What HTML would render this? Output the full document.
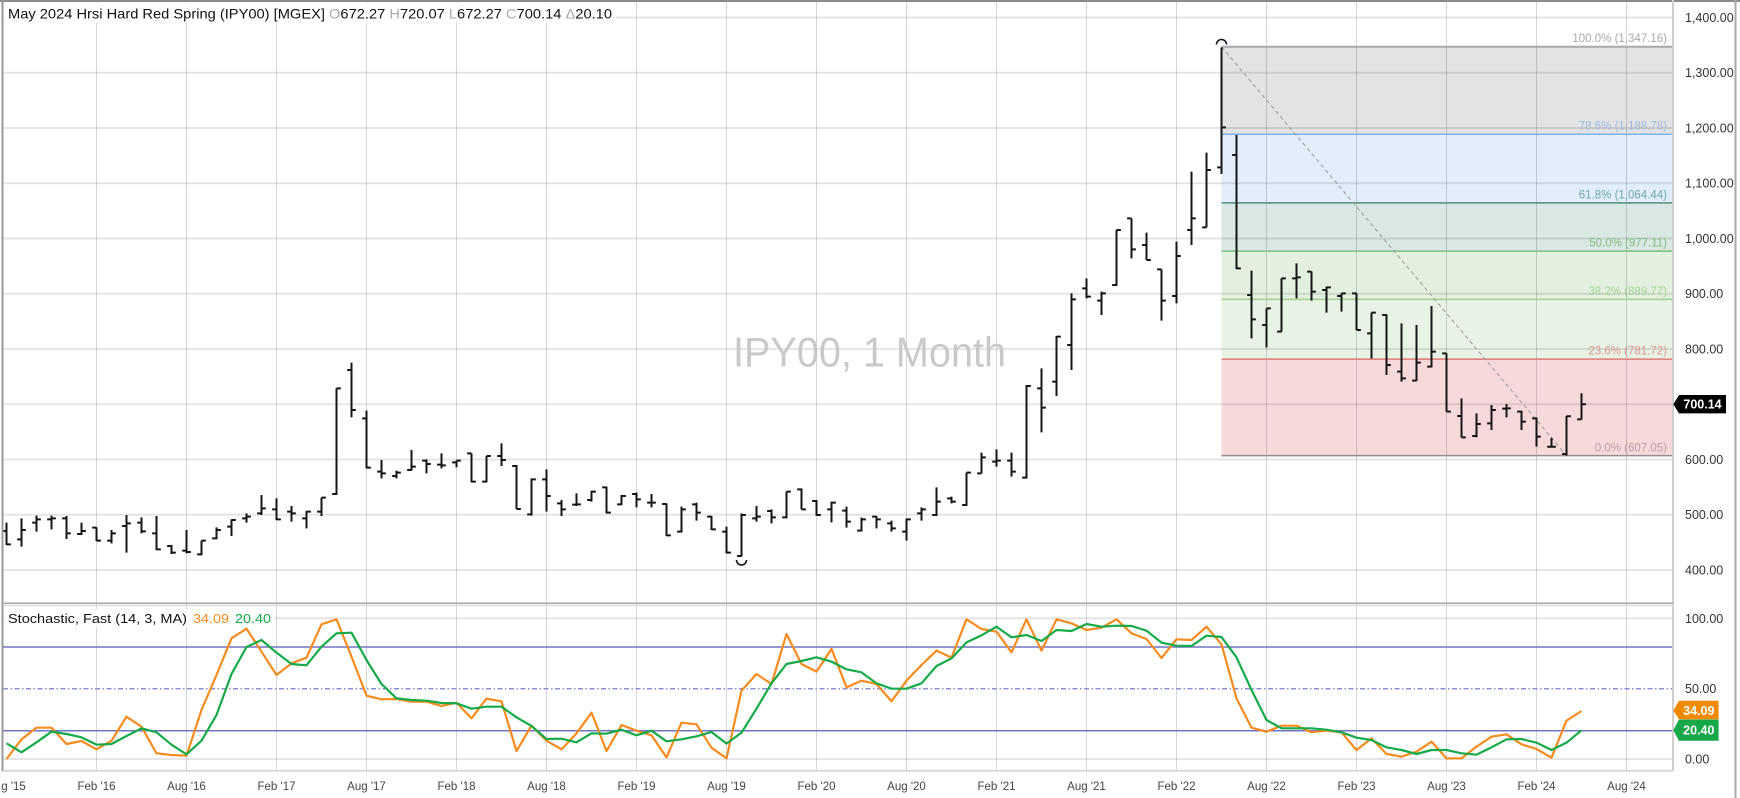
<!DOCTYPE html>
<html><head><meta charset="utf-8"><style>
html,body{margin:0;padding:0;background:#fff;}
svg{display:block;font-family:"Liberation Sans",Arial,sans-serif;}
.b path{vector-effect:non-scaling-stroke;}
.s polyline{vector-effect:non-scaling-stroke;}
</style></head><body>
<svg width="1740" height="798" viewBox="0 0 1740 798" xmlns="http://www.w3.org/2000/svg">
<rect width="1740" height="798" fill="#fff"/>

<!-- Fib fills -->
<rect x="1221.5" y="46.7" width="451.5" height="87.5" fill="#e3e3e6"/>
<rect x="1221.5" y="134.2" width="451.5" height="68.7" fill="#e2eefa"/>
<rect x="1221.5" y="202.9" width="451.5" height="48.2" fill="#dae8e4"/>
<rect x="1221.5" y="251.1" width="451.5" height="48.3" fill="#e3f0df"/>
<rect x="1221.5" y="299.4" width="451.5" height="59.7" fill="#e8f3e6"/>
<rect x="1221.5" y="359.1" width="451.5" height="96.5" fill="#f7d9dc"/>

<!-- gridlines -->
<g stroke="rgba(0,0,0,0.1)" stroke-width="2">
<line x1="3" x2="1673" y1="17.5" y2="17.5"/>
<line x1="3" x2="1673" y1="72.75" y2="72.75"/>
<line x1="3" x2="1673" y1="128" y2="128"/>
<line x1="3" x2="1673" y1="183.25" y2="183.25"/>
<line x1="3" x2="1673" y1="238.5" y2="238.5"/>
<line x1="3" x2="1673" y1="293.75" y2="293.75"/>
<line x1="3" x2="1673" y1="349" y2="349"/>
<line x1="3" x2="1673" y1="404.25" y2="404.25"/>
<line x1="3" x2="1673" y1="459.5" y2="459.5"/>
<line x1="3" x2="1673" y1="514.75" y2="514.75"/>
<line x1="3" x2="1673" y1="570" y2="570"/>
<line x1="3" x2="1673" y1="618.3" y2="618.3"/>
<line x1="3" x2="1673" y1="759" y2="759"/>
</g>
<g stroke="rgba(0,0,0,0.16)" stroke-width="1">
<line x1="96.5" x2="96.5" y1="0" y2="772"/>
<line x1="186.5" x2="186.5" y1="0" y2="772"/>
<line x1="276.5" x2="276.5" y1="0" y2="772"/>
<line x1="366.5" x2="366.5" y1="0" y2="772"/>
<line x1="456.5" x2="456.5" y1="0" y2="772"/>
<line x1="546.5" x2="546.5" y1="0" y2="772"/>
<line x1="636.5" x2="636.5" y1="0" y2="772"/>
<line x1="726.5" x2="726.5" y1="0" y2="772"/>
<line x1="816.5" x2="816.5" y1="0" y2="772"/>
<line x1="906.5" x2="906.5" y1="0" y2="772"/>
<line x1="996.5" x2="996.5" y1="0" y2="772"/>
<line x1="1086.5" x2="1086.5" y1="0" y2="772"/>
<line x1="1176.5" x2="1176.5" y1="0" y2="772"/>
<line x1="1266.5" x2="1266.5" y1="0" y2="772"/>
<line x1="1356.5" x2="1356.5" y1="0" y2="772"/>
<line x1="1446.5" x2="1446.5" y1="0" y2="772"/>
<line x1="1536.5" x2="1536.5" y1="0" y2="772"/>
<line x1="1626.5" x2="1626.5" y1="0" y2="772"/>
</g>

<!-- Fib lines -->
<g stroke-width="1.5">
<line x1="1221.5" x2="1673" y1="46.7" y2="46.7" stroke="#a8a8ae" stroke-width="2"/>
<line x1="1221.5" x2="1673" y1="134.2" y2="134.2" stroke="#7fb0e6"/>
<line x1="1221.5" x2="1673" y1="202.9" y2="202.9" stroke="#4d8f84"/>
<line x1="1221.5" x2="1673" y1="251.1" y2="251.1" stroke="#7bbf7b"/>
<line x1="1221.5" x2="1673" y1="299.4" y2="299.4" stroke="#a0d090"/>
<line x1="1221.5" x2="1673" y1="359.1" y2="359.1" stroke="#e07a7a"/>
<line x1="1221.5" x2="1673" y1="455.6" y2="455.6" stroke="#9a8a90"/>
</g>
<g font-size="11.5" text-anchor="end">
<text x="1667" y="42" fill="#a9a9a9">100.0% (1,347.16)</text>
<text x="1667" y="129.6" fill="#9bb9dd">78.6% (1,188.78)</text>
<text x="1667" y="198.4" fill="#6fa7a7">61.8% (1,064.44)</text>
<text x="1667" y="246.6" fill="#82bb82">50.0% (977.11)</text>
<text x="1667" y="294.9" fill="#a7d39a">38.2% (889.77)</text>
<text x="1667" y="354.6" fill="#e39494">23.6% (781.72)</text>
<text x="1667" y="451.5" fill="#b8a0a8">0.0% (607.05)</text>
</g>
<line x1="1221.5" y1="46.7" x2="1566.5" y2="455.6" stroke="#9a9a9a" stroke-width="1" stroke-dasharray="4,3"/>

<!-- watermark -->
<text x="733" y="366.7" font-size="42" fill="#c9c9c9" textLength="273" lengthAdjust="spacingAndGlyphs">IPY00, 1 Month</text>

<!-- Bars -->
<g class="b" stroke="#151515" stroke-width="2" fill="none">
<g transform="translate(6.5,330) scale(15,0.333333)">
<path d="M0 578V645M-0.29 603h0.29M0 643h0.29M1 565V650M0.71 628h0.29M1 600h0.29M2 557V605M1.71 578h0.29M2 568h0.29M3 557V598M2.71 568h0.29M3 565h0.29M4 558V627M3.71 565h0.29M4 610h0.29M5 578V615M4.71 612h0.29M5 603h0.29M6 592V633M5.71 593h0.29M6 632h0.29M7 600V640M6.71 632h0.29M7 610h0.29M8 555V668M7.71 588h0.29M8 580h0.29M9 562V610M8.71 578h0.29M9 604h0.29M10 558V660M9.71 610h0.29M10 658h0.29M11 645V672M10.71 648h0.29M11 668h0.29M12 600V670M11.71 662h0.29M12 666h0.29M13 632V676M12.71 673h0.29M13 632h0.29M14 592V628M13.71 625h0.29M14 600h0.29M15 568V618M14.71 590h0.29M15 570h0.29M16 550V578M15.71 565h0.29M16 560h0.29M17 495V555M16.71 550h0.29M17 535h0.29M18 505V570M17.71 538h0.29M18 568h0.29M19 528V575M18.71 545h0.29M19 550h0.29M20 543V595M19.71 565h0.29M20 545h0.29M21 503V558M20.71 545h0.29M21 503h0.29M22 175V495M21.71 492h0.29M22 175h0.29M23 98V262M22.71 120h0.29M23 240h0.29M24 242V415M23.71 265h0.29M24 413h0.29M25 390V445M24.71 425h0.29M25 430h0.29M26 422V445M25.71 438h0.29M26 428h0.29M27 360V422M26.71 420h0.29M27 410h0.29M28 388V430M27.71 392h0.29M28 402h0.29M29 370V415M28.71 404h0.29M29 406h0.29M30 392V412M29.71 397h0.29M30 392h0.29M31 370V457M30.71 370h0.29M31 455h0.29M32 378V457M31.71 455h0.29M32 378h0.29M33 340V408M32.71 378h0.29M33 390h0.29M34 405V537M33.71 408h0.29M34 537h0.29"/>
</g>
<g transform="translate(6.5,270) scale(15,0.333333)">
<path d="M35 625V737M34.71 733h0.29M35 628h0.29M36 598V725M35.71 628h0.29M36 678h0.29M37 690V738M36.71 700h0.29M37 718h0.29M38 670V708M37.71 704h0.29M38 703h0.29M39 662V695M38.71 690h0.29M39 665h0.29M40 650V730M39.71 652h0.29M40 728h0.29M41 675V705M40.71 703h0.29M41 678h0.29M42 668V712M41.71 672h0.29M42 688h0.29M43 672V712M42.71 698h0.29M43 698h0.29M44 700V798M43.71 702h0.29M44 796h0.29M45 710V787M44.71 785h0.29M45 718h0.29M46 698V752M45.71 703h0.29M46 728h0.29M47 738V780M46.71 740h0.29M47 778h0.29M48 770V850M47.71 785h0.29M48 848h0.29M49 730V860M48.71 858h0.29M49 735h0.29M50 708V755M49.71 745h0.29M50 740h0.29M51 718V760M50.71 723h0.29M51 742h0.29M52 665V745M51.71 742h0.29M52 665h0.29M53 655V718M52.71 658h0.29M53 718h0.29M54 690V737M53.71 693h0.29M54 735h0.29M55 695V757M54.71 718h0.29M55 698h0.29M56 710V773M55.71 722h0.29M56 755h0.29M57 743V784M56.71 782h0.29M57 748h0.29M58 738V775M57.71 740h0.29M58 748h0.29M59 752V785M58.71 760h0.29M59 775h0.29M60 745V812M59.71 785h0.29M60 748h0.29M61 712V752M60.71 730h0.29M61 718h0.29M62 652V738M61.71 735h0.29M62 695h0.29M63 680V700M62.71 685h0.29M63 695h0.29M64 608V708M63.71 705h0.29M64 608h0.29M65 548V610M64.71 610h0.29M65 562h0.29M66 538V590M65.71 575h0.29M66 572h0.29M67 548V620M66.71 572h0.29M67 605h0.29M68 345V625M67.71 623h0.29M68 348h0.29"/>
</g>
<g transform="translate(6.5,30) scale(15,0.333333)">
<path d="M69 1015V1207M68.71 1075h0.29M69 1133h0.29M70 918V1098M69.71 1055h0.29M70 920h0.29M71 790V1020M70.71 945h0.29M71 808h0.29M72 745V805M71.71 775h0.29M72 800h0.29M73 785V855M72.71 812h0.29M73 790h0.29M74 600V768M73.71 765h0.29M74 600h0.29M75 565V685M74.71 565h0.29M75 658h0.29M76 608V690M75.71 645h0.29M76 690h0.29M77 718V872M76.71 718h0.29M77 812h0.29M78 635V820M77.71 798h0.29M78 678h0.29M79 425V645M78.71 600h0.29M79 565h0.29M80 368V592M79.71 592h0.29M80 420h0.29M81 52V432M80.71 412h0.29M81 292h0.29M82 315V717M81.71 375h0.29M82 715h0.29M83 722V925M82.71 795h0.29M83 868h0.29M84 835V952M83.71 885h0.29M84 835h0.29M85 745V905M84.71 905h0.29M85 745h0.29M86 700V805M85.71 745h0.29M86 742h0.29M87 725V812M86.71 725h0.29M87 785h0.29M88 770V848M87.71 780h0.29M88 772h0.29M89 790V845M88.71 798h0.29M89 790h0.29M90 790V900M89.71 790h0.29M90 900h0.29M91 848V985M90.71 910h0.29M91 848h0.29M92 853V1035M91.71 855h0.29M92 1005h0.29M93 880V1055M92.71 1025h0.29M93 1045h0.29M94 885V1053M93.71 1052h0.29M94 998h0.29M95 828V1012M94.71 1010h0.29M95 965h0.29M96 970V1145M95.71 970h0.29M96 1145h0.29M97 1105V1222M96.71 1158h0.29M97 1222h0.29M98 1150V1222M97.71 1218h0.29M98 1182h0.29M99 1125V1200M98.71 1180h0.29M99 1140h0.29M100 1122V1162M99.71 1136h0.29M100 1135h0.29M101 1142V1200M100.71 1145h0.29M101 1175h0.29M102 1162V1250M101.71 1165h0.29M102 1220h0.29"/>
</g>
<g transform="translate(6.5,0) scale(15,1)">
<path d="M103 437.7V447.8M102.71 446.8h0.29M103 446.8h0.29M104 416V455.6M103.71 454h0.29M104 416.3h0.29M105 393.2V419.4M104.71 419.4h0.29M105 404.2h0.29"/>
</g>
</g>
<path d="M1216.5 44.5 A5 5 0 0 1 1226.5 44.5" fill="none" stroke="#151515" stroke-width="1.6"/>
<path d="M736.5 560 A5 5 0 0 0 746.5 560" fill="none" stroke="#151515" stroke-width="1.6"/>

<!-- Stochastic ref lines -->
<line x1="3" x2="1673" y1="647" y2="647" stroke="#7074c4" stroke-width="1.5"/>
<line x1="3" x2="1673" y1="730.7" y2="730.7" stroke="#7074c4" stroke-width="1.5"/>
<line x1="3" x2="1673" y1="688.7" y2="688.7" stroke="#8a8fd0" stroke-width="1.5" stroke-dasharray="5,2.5,1.5,2.5"/>

<!-- Stochastic series -->
<g class="s" transform="translate(6.5,580) scale(15,0.333333)" fill="none" stroke-width="2.2" stroke-linejoin="round">
<polyline stroke="#f68b1f" points="0,537 1,478 2,443 3,443 4,492 5,483 6,508 7,482 8,410 9,440 10,520 11,525 12,527 13,390 14,285 15,175 16,146 17,215 18,285 19,250 20,233 21,133 22,118 23,230 24,347 25,358 26,357 27,365 28,365 29,378 30,368 31,415 32,356 33,364 34,513 35,437 36,482 37,508 38,460 39,398 40,513 41,435 42,452 43,466 44,532 45,428 46,433 47,503 48,535 49,332 50,282 51,312 52,162 53,252 54,275 55,207 56,322 57,302 58,312 59,364 60,302 61,255 62,212 63,233 64,118 65,147 66,155 67,217 68,118 69,212 70,118 71,130 72,150 73,143 74,118 75,160 76,177 77,234 78,178 79,180 80,140 81,193 82,355 83,443 84,455 85,437 86,437 87,457 88,452 89,457 90,510 91,475 92,522 93,530 94,515 95,485 96,535 97,535 98,500 99,470 100,463 101,493 102,507 103,533 104,422 105,393"/>
<polyline stroke="#16aa48" points="0,490 1,517 2,487 3,455 4,462 5,472 6,494 7,492 8,468 9,445 10,457 11,494 12,523 13,482 14,405 15,282 16,201 17,180 18,218 19,252 20,256 21,200 22,160 23,158 24,240 25,312 26,355 27,360 28,362 29,369 30,370 31,386 32,380 33,380 34,412 35,438 36,477 37,476 38,487 39,460 40,461 41,449 42,466 43,452 44,484 45,478 46,469 47,456 48,491 49,458 50,386 51,310 52,252 53,243 54,232 55,245 56,268 57,277 58,310 59,326 60,326 61,310 62,258 63,235 64,187 65,166 66,140 67,172 68,165 69,183 70,150 71,153 72,132 73,140 74,137 75,138 76,152 77,188 78,197 79,198 80,167 81,171 82,232 83,330 84,420 85,445 86,445 87,445 88,449 89,457 90,473 91,480 92,502 93,510 94,522 95,510 96,510 97,520 98,524 99,502 100,478 101,477 102,488 103,510 104,488 105,451"/>
</g>

<!-- borders -->
<rect x="0" y="0" width="1740" height="2" fill="#8c8c8c"/>
<rect x="1.5" y="0" width="2" height="771" fill="#999"/>
<rect x="1734.5" y="0" width="2" height="798" fill="#aaa"/>
<line x1="1673" x2="1673" y1="0" y2="771" stroke="#cfcfcf" stroke-width="2"/>
<line x1="3" x2="1673" y1="603.3" y2="603.3" stroke="#a8a8a8" stroke-width="1.5"/>
<line x1="3" x2="1673" y1="605.5" y2="605.5" stroke="#dcdcdc" stroke-width="1.5"/>
<line x1="3" x2="1673" y1="770.7" y2="770.7" stroke="#d8d8d8" stroke-width="2"/>

<!-- title -->
<rect x="4" y="3" width="612" height="20" fill="#fff"/>
<text x="8" y="18.5" font-size="14" fill="#111" textLength="604" lengthAdjust="spacingAndGlyphs">May 2024 Hrsi Hard Red Spring (IPY00) [MGEX] <tspan fill="#aaa">O</tspan>672.27 <tspan fill="#aaa">H</tspan>720.07 <tspan fill="#aaa">L</tspan>672.27 <tspan fill="#aaa">C</tspan>700.14 <tspan fill="#aaa">Δ</tspan>20.10</text>

<!-- stoch label -->
<rect x="4" y="609" width="270" height="18" fill="#fff"/>
<text x="8" y="623" font-size="13" fill="#111" textLength="179" lengthAdjust="spacingAndGlyphs">Stochastic, Fast  (14, 3, MA)</text>
<text x="193" y="623" font-size="13" fill="#f68b1f" textLength="36" lengthAdjust="spacingAndGlyphs">34.09</text>
<text x="235" y="623" font-size="13" fill="#16aa48" textLength="36" lengthAdjust="spacingAndGlyphs">20.40</text>

<!-- price axis -->
<g font-size="12.5" fill="#333">
<text x="1685" y="22">1,400.00</text>
<text x="1685" y="77.2">1,300.00</text>
<text x="1685" y="132.5">1,200.00</text>
<text x="1685" y="187.7">1,100.00</text>
<text x="1685" y="243">1,000.00</text>
<text x="1685" y="298.2">900.00</text>
<text x="1685" y="353.5">800.00</text>
<text x="1685" y="464">600.00</text>
<text x="1685" y="519.2">500.00</text>
<text x="1685" y="574.5">400.00</text>
<text x="1685" y="622.8">100.00</text>
<text x="1685" y="693.2">50.00</text>
<text x="1685" y="763.5">0.00</text>
</g>

<!-- tags -->
<path d="M1673.3 404.2 L1679 395 H1726 V413.4 H1679 Z" fill="#000"/>
<text x="1702.5" y="408.6" font-size="12.5" font-weight="bold" fill="#fff" text-anchor="middle">700.14</text>
<path d="M1673.3 710.5 L1679 700.7 H1718.6 V719.3 H1679 Z" fill="#f28a00"/>
<text x="1698.8" y="714.9" font-size="12.5" font-weight="bold" fill="#fff" text-anchor="middle">34.09</text>
<path d="M1673.3 730.2 L1679 719.5 H1718.6 V740.7 H1679 Z" fill="#16a748"/>
<text x="1698.8" y="734.6" font-size="12.5" font-weight="bold" fill="#fff" text-anchor="middle">20.40</text>

<!-- x labels -->
<g font-size="11.5" fill="#444" text-anchor="middle">
<text x="6.5" y="790">Aug '15</text>
<text x="96.5" y="790">Feb '16</text>
<text x="186.5" y="790">Aug '16</text>
<text x="276.5" y="790">Feb '17</text>
<text x="366.5" y="790">Aug '17</text>
<text x="456.5" y="790">Feb '18</text>
<text x="546.5" y="790">Aug '18</text>
<text x="636.5" y="790">Feb '19</text>
<text x="726.5" y="790">Aug '19</text>
<text x="816.5" y="790">Feb '20</text>
<text x="906.5" y="790">Aug '20</text>
<text x="996.5" y="790">Feb '21</text>
<text x="1086.5" y="790">Aug '21</text>
<text x="1176.5" y="790">Feb '22</text>
<text x="1266.5" y="790">Aug '22</text>
<text x="1356.5" y="790">Feb '23</text>
<text x="1446.5" y="790">Aug '23</text>
<text x="1536.5" y="790">Feb '24</text>
<text x="1626.5" y="790">Aug '24</text>
</g>
<rect x="0" y="772" width="1.5" height="26" fill="#fff"/>
</svg>
</body></html>
